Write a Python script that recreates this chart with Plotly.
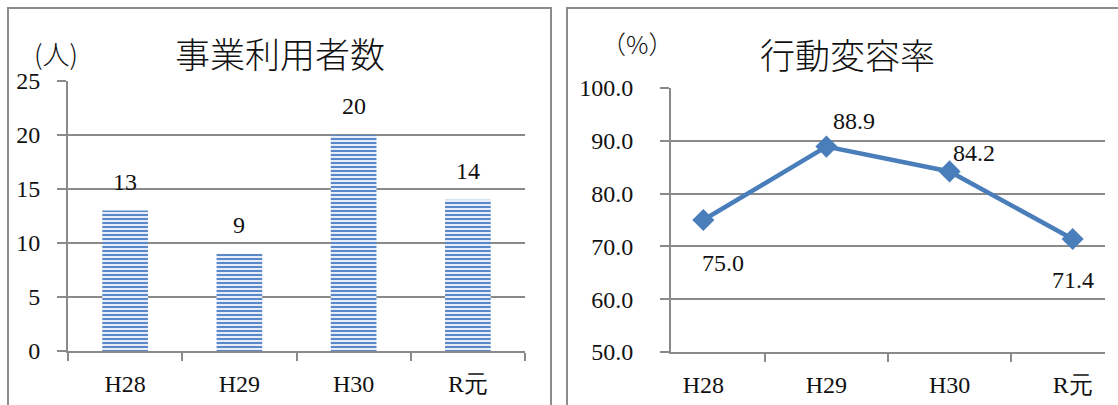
import plotly.graph_objects as go

# Data
years = ["H28", "H29", "H30", "R元"]
users = [13, 9, 20, 14]                 # 事業利用者数 (人)
change_rate = [75.0, 88.9, 84.2, 71.4]  # 行動変容率 (%)

W, H = 1118, 405
GRID = "#8a8a8a"
BLUE = "#4a7ebb"
SERIF = "'Liberation Serif', 'DejaVu Serif', 'Times New Roman', serif"
NUM_FONT = dict(family=SERIF, size=24, color="#111")
JP_FONT = "Noto Sans CJK JP"


def px(x):
    return x / W


def py(y):
    return 1 - y / H


fig = go.Figure()

# left panel: bar chart of users
fig.add_trace(go.Bar(
    x=years, y=users, width=0.4,
    marker=dict(
        color="#dfe8f5",
        line=dict(width=0),
        pattern=dict(shape="-", fgcolor="#5b88c8", bgcolor="#e6edf8",
                     size=4, solidity=0.5),
    ),
    xaxis="x", yaxis="y", showlegend=False, hoverinfo="skip",
))

# right panel: line chart of behaviour change rate
fig.add_trace(go.Scatter(
    x=years, y=change_rate, mode="lines+markers",
    line=dict(color=BLUE, width=4.5),
    marker=dict(symbol="diamond", size=17, color=BLUE),
    xaxis="x2", yaxis="y2", showlegend=False, hoverinfo="skip",
))

annotations = []
for cat, v in zip(years, users):
    annotations.append(dict(
        x=cat, y=v, xref="x", yref="y", text=str(v), showarrow=False,
        xanchor="center", yanchor="bottom", yshift=14, font=NUM_FONT,
    ))

label_offsets = [(20, -43), (28, 26), (24, 18), (0, -41)]
for cat, v, (dx, dy) in zip(years, change_rate, label_offsets):
    annotations.append(dict(
        x=cat, y=v, xref="x2", yref="y2", text=f"{v:.1f}", showarrow=False,
        xanchor="center", yanchor="middle",
        xshift=dx, yshift=dy, font=NUM_FONT,
    ))

# titles and unit labels
TITLE_FONT = dict(family=JP_FONT, size=35, color="#111", weight=300)
annotations += [
    dict(x=px(280), y=py(52), text="事業利用者数", font=TITLE_FONT),
    dict(x=px(56), y=py(53), text="(人)",
         font=dict(family=JP_FONT, size=27, color="#111", weight=300)),
    dict(x=px(847), y=py(53), text="行動変容率", font=TITLE_FONT),
    dict(x=px(637), y=py(43), text="（%）",
         font=dict(family=JP_FONT, size=25, color="#111", weight=300)),
]
for a in annotations[-4:]:
    a.update(xref="paper", yref="paper", showarrow=False,
             xanchor="center", yanchor="middle")

# panel frames
frame = dict(color="#8c8c8c", width=2)
shapes = [
    dict(type="rect", xref="paper", yref="paper",
         x0=px(8), x1=px(551), y0=-0.2, y1=py(8), line=frame),
    dict(type="rect", xref="paper", yref="paper",
         x0=px(567), x1=1.2, y0=-0.2, y1=py(8), line=frame),
]

xaxis_common = dict(
    type="category", tickson="boundaries", ticks="outside", ticklen=8,
    tickcolor=GRID, tickwidth=2, showline=True, linecolor=GRID, linewidth=2,
    showgrid=False, tickfont=NUM_FONT, ticklabelstandoff=10, fixedrange=True,
    automargin=False,
)
yaxis_common = dict(
    ticks="outside", ticklen=9, tickcolor=GRID, tickwidth=2,
    showline=True, linecolor=GRID, linewidth=2,
    showgrid=True, gridcolor=GRID, gridwidth=2, zeroline=False,
    tickfont=NUM_FONT, fixedrange=True, automargin=False,
)

fig.update_layout(
    template="none",
    width=W, height=H, autosize=False,
    margin=dict(l=0, r=0, t=0, b=0, pad=0),
    paper_bgcolor="white", plot_bgcolor="white",
    xaxis=dict(domain=[px(68), px(525)], anchor="y", **xaxis_common),
    yaxis=dict(domain=[py(351), py(81)], anchor="x", range=[0, 25],
               tickvals=[0, 5, 10, 15, 20, 25], ticklabelstandoff=12,
               **yaxis_common),
    xaxis2=dict(domain=[px(671), px(1105)], anchor="y2", **xaxis_common),
    yaxis2=dict(domain=[py(352), py(88)], anchor="x2", range=[50, 100],
                tickvals=[50, 60, 70, 80, 90, 100], tickformat=".1f",
                ticklabelstandoff=22, **yaxis_common),
    annotations=annotations,
    shapes=shapes,
)

fig.write_html("out.html")
